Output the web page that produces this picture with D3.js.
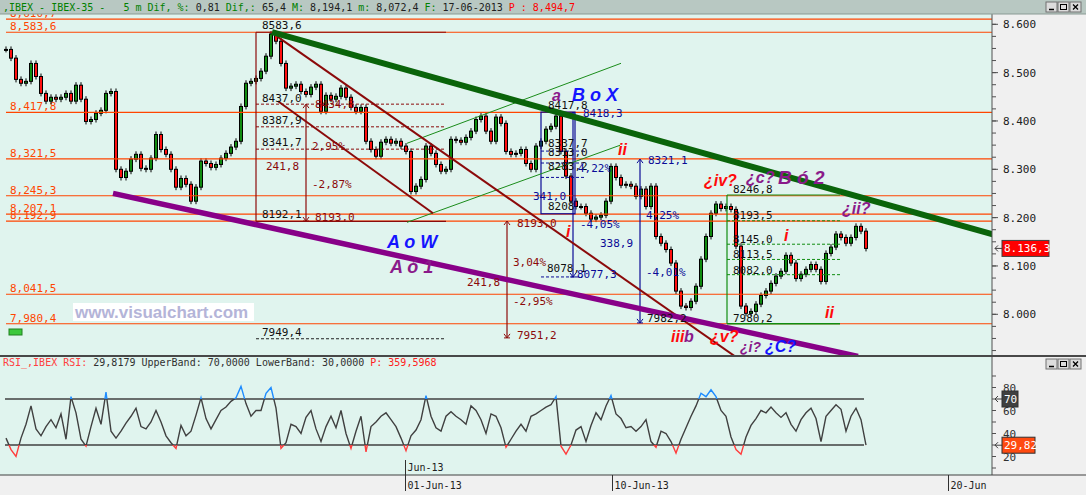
<!DOCTYPE html>
<meta charset="utf-8">
<script src="https://d3js.org/d3.v7.min.js"></script>
<style>
  body { margin: 0; background: #f0f0f0; }
  text { white-space: pre; }
</style>
<div id="chart"></div>
<script>

// closing price of each bar (5 min)
var closes = [
  8548, 8530, 8486, 8478, 8482, 8519, 8492, 8457, 8441, 8449,
  8445, 8449, 8457, 8441, 8474, 8445, 8399, 8403, 8416, 8422,
  8457, 8461, 8300, 8283, 8296, 8321, 8331, 8302, 8300, 8323,
  8372, 8341, 8331, 8300, 8263, 8281, 8269, 8234, 8263, 8317,
  8312, 8304, 8310, 8323, 8333, 8346, 8358, 8430, 8478, 8482,
  8488, 8503, 8534, 8580, 8565, 8519, 8468, 8472, 8476, 8461,
  8455, 8470, 8476, 8420, 8453, 8445, 8451, 8468, 8449, 8428,
  8420, 8428, 8358, 8341, 8327, 8356, 8362, 8354, 8358, 8348,
  8337, 8254, 8265, 8279, 8348, 8333, 8310, 8296, 8300, 8362,
  8360, 8356, 8366, 8379, 8403, 8410, 8379, 8358, 8408, 8395,
  8337, 8331, 8333, 8341, 8312, 8300, 8348, 8358, 8383, 8389,
  8410, 8337, 8286, 8234, 8223, 8223, 8209, 8197, 8201, 8205,
  8234, 8306, 8283, 8267, 8269, 8265, 8244, 8259, 8223, 8265,
  8161, 8147, 8134, 8106, 8048, 8017, 8014, 8027, 8058, 8114,
  8161, 8209, 8228, 8219, 8223, 8217, 8141, 8017, 8002, 8006,
  8021, 8039, 8048, 8064, 8079, 8089, 8122, 8106, 8074, 8083,
  8093, 8103, 8093, 8068, 8126, 8139, 8166, 8159, 8147, 8159,
  8182, 8172, 8136.3
]

// RSI of the same bars
var rsi = [
  36, 26, 20, 36, 48, 64, 44, 38, 46, 52,
  45, 57, 35, 72, 58, 35, 29, 46, 62, 48,
  76, 42, 36, 42, 49, 55, 62, 46, 44, 50,
  60, 50, 38, 32, 27, 47, 38, 42, 56, 71,
  53, 44, 52, 60, 63, 68, 71, 81, 66, 55,
  60, 60, 75, 80, 62, 27, 32, 48, 46, 40,
  54, 60, 44, 33, 46, 55, 45, 60, 40, 27,
  42, 55, 24, 46, 50, 55, 58, 52, 46, 36,
  25, 38, 43, 52, 73, 55, 45, 42, 55, 59,
  55, 52, 48, 64, 60, 52, 40, 57, 55, 45,
  28, 35, 42, 48, 42, 55, 57, 60, 63, 65,
  72, 29, 22, 30, 43, 46, 33, 47, 58, 52,
  64, 73, 57, 53, 45, 46, 42, 46, 52, 33,
  28, 42, 40, 33, 23, 35, 45, 55, 64, 75,
  72, 78, 72, 60, 55, 37, 26, 22, 37, 47,
  53, 60, 58, 63, 58, 54, 58, 48, 42, 52,
  58, 62, 53, 33, 55, 60, 65, 61, 42, 55,
  62, 52, 29.8179
]

// horizontal support / resistance levels
var levels = [8610.7, 8583.6, 8417.8, 8321.5, 8245.3, 8207.1, 8192.9, 8041.5, 7980.4]
var levelLabels = ["8,610,7", "8,583,6", "8,417,8", "8,321,5", "8,245,3", "8,207,1", "8,192,9", "8,041,5", "7,980,4"]

var priceTicks = [8000, 8100, 8200, 8300, 8400, 8500, 8600]
var rsiTicks = [20, 40, 60, 80]
var rsiBands = [70, 30]

// date ticks, placed on the bar index
var dateTicks = [["01-Jun-13", 79.8], ["10-Jun-13", 121.2], ["20-Jun", 188.4]]

// drawing objects, points are [bar index, price]
var thickGreen = [[53.2, 8583.6], [197.4, 8165.5]]
var thickPurple = [[21.4, 8250.3], [170.4, 7913]]
var redChannel = [
  [[54.2, 8575], [145.8, 7913]],
  [[54.4, 8440.7], [85.4, 8209]]
]
var greenChannel = [
  [[80.2, 8353.8], [123, 8519.3]],
  [[80.2, 8190.3], [122.8, 8349.7]]
]
// retracement boxes: [bar from, bar to, price top, price bottom]
var redBox = [50, 88, 8583.6, 8192.1]
var redDashed = [8434.8, 8387.9, 8341.7]
var blackDashed = [[50, 88, 7949.4]]
var blueBox = [107, 113.8, 8418.3, 8208]
var blueDashed = [[107, 115.8, 8337.7], [107, 115.8, 8313.0], [107, 115.8, 8283.2], [107, 115.2, 8077.3]]
var greenBox = [144.2, 166.8, 8246.8, 7980.2]
var greenDashed = [8193.5, 8145.0, 8113.5, 8082.0]
// measuring arrows: [bar, price from, price to]
var redArrows = [[60, 8434.8, 8193.0], [100.2, 8193.0, 7951.2]]
var blueArrows = [[113.4, 8418.3, 8077.3], [126.8, 8321.1, 7982.2]]

// number labels: [text, bar, price, colour kind]
var numLabels = [
  ["8583,6", 51.2, 8590, "k"], ["8437,0", 51.2, 8439, "k"], ["8387,9", 51.2, 8393.7, "k"],
  ["8341,7", 51.2, 8348.2, "k"], ["8192,1", 51.2, 8199.2, "k"], ["7949,4", 51.2, 7955.1, "k"],
  ["8434,8", 61.8, 8426.8, "r"], ["2,95%", 61.2, 8339.9, "r"], ["241,8", 52, 8298.6, "r"],
  ["-2,87%", 61.2, 8261.3, "r"], ["8193,0", 61.8, 8193, "r"], ["8193,0", 102.2, 8180.6, "r"],
  ["3,04%", 101.4, 8099.9, "r"], ["241,8", 92.2, 8058.6, "r"], ["-2,95%", 101.4, 8019.2, "r"],
  ["7951,2", 102.2, 7948.9, "r"],
  ["8417,8", 108.4, 8424.8, "k"], ["8337,7", 108.4, 8346.1, "k"], ["8313,0", 108.4, 8327.5, "k"],
  ["8283,2", 108.4, 8298.6, "k"], ["8208", 108.4, 8215.8, "k"], ["8078,1", 108.2, 8087.5, "k"],
  ["8418,3", 115.4, 8408.2, "b"], ["4,22%", 114.4, 8294.4, "b"], ["341,0", 105.4, 8236.5, "b"],
  ["8077,3", 114.2, 8075.1, "b"], ["-4,05%", 114.8, 8178.6, "b"], ["338,9", 118.8, 8139.2, "b"],
  ["8321,1", 128.4, 8311, "b"], ["4,25%", 128, 8197.2, "b"], ["-4,01%", 128, 8079.2, "b"],
  ["7982,2", 128.2, 7984, "k"],
  ["8246,8", 145.4, 8250.9, "k"], ["8193,5", 145.4, 8197.2, "k"], ["8145,0", 145.4, 8147.5, "k"],
  ["8113,5", 145.4, 8116.5, "k"], ["8082,0", 145.4, 8083.4, "k"], ["7980,2", 145.4, 7984, "k"]
]

// wave count labels: [text, bar, price, colour kind, size kind]
var waveLabels = [
  ["A o W", 76.2, 8137, "blue", 1], ["A ó 1", 76.8, 8085, "purple", 1],
  ["a", 109.2, 8441, "purple", 0], ["B o X", 113.2, 8441, "blue", 1],
  ["ii", 122.4, 8330, "red", 0], ["i", 112, 8160, "red", 0],
  ["¿iv?", 139.6, 8266, "red", 0], ["¿c?", 148, 8272, "purple", 0],
  ["B ó 2", 154.4, 8269, "purple", 2], ["¿ii?", 167.2, 8207.6, "purple", 0],
  ["i", 155.6, 8151.7, "red", 0], ["ii", 163.8, 7992, "red", 0],
  ["iii", 133, 7942.6, "red", 0], ["b", 135.6, 7942.6, "purple", 0],
  ["¿v?", 140.8, 7942.6, "red", 0], ["¿i?", 146.8, 7922, "purple", 3],
  ["¿C?", 151.8, 7922, "blue", 0]
]

var width = 1086, height = 495
var plotRight = 992
var mainTop = 14, mainBottom = 355, rsiTop = 357, rsiBottom = 475

var mono = "DejaVu Sans Mono, monospace"
var colors = { k: "#101010", r: "#8b0a0a", b: "#0a0a96",
  blue: "#1414ff", purple: "#8a1a8a", red: "#ff0a0a", orange: "#ff4500" }

var svg = d3.select("#chart").append("svg")
  .attr("width", width).attr("height", height)
  .style("font-family", mono)

svg.append("rect").attr("width", width).attr("height", height).attr("fill", "#f0f0f0")
svg.append("rect").attr("x", 0).attr("y", mainTop).attr("width", plotRight).attr("height", mainBottom - mainTop).attr("fill", "#e0f4ee")
svg.append("rect").attr("x", 0).attr("y", rsiTop).attr("width", plotRight).attr("height", rsiBottom - rsiTop).attr("fill", "#e0f4ee")

var defs = svg.append("defs")
defs.append("clipPath").attr("id", "clipMain").append("rect")
  .attr("x", 0).attr("y", mainTop).attr("width", plotRight).attr("height", mainBottom - mainTop)
defs.append("clipPath").attr("id", "clipRsi").append("rect")
  .attr("x", 0).attr("y", rsiTop).attr("width", plotRight).attr("height", rsiBottom - rsiTop)

// scales
var x = d3.scaleLinear().domain([0, closes.length - 1]).range([6, 866])
var y = d3.scaleLinear().domain([8000, 8600]).range([314.3, 24.3])
var yr = d3.scaleLinear().domain([30, 70]).range([445, 399])

var main = svg.append("g").attr("clip-path", "url(#clipMain)")

// level labels (under the candles)
main.selectAll(".lvlLabel").data(levels).enter().append("text")
  .attr("x", 10).attr("y", function(d) { return y(d) - 2 })
  .attr("fill", colors.orange).attr("font-size", 11)
  .text(function(d, i) { return levelLabels[i] })

// watermark
main.append("rect").attr("x", 73).attr("y", 303).attr("width", 181).attr("height", 18).attr("fill", "#ffffff")
main.append("text").attr("x", 75).attr("y", 318)
  .attr("font-family", "Liberation Sans, Arial, sans-serif").attr("font-weight", "bold")
  .attr("font-size", 17).attr("fill", "#b4b4d8").text("www.visualchart.com")
main.append("rect").attr("x", 9).attr("y", 329).attr("width", 13).attr("height", 6)
  .attr("fill", "#3cc83c").attr("stroke", "#208020")

// candles, open = previous close
var bars = closes.map(function(c, i) { return { i: i, o: i ? closes[i - 1] : c, c: c } })
var cg = main.append("g")
cg.selectAll("line").data(bars).enter().append("line")
  .attr("x1", function(d) { return x(d.i) }).attr("x2", function(d) { return x(d.i) })
  .attr("y1", function(d) { return y(Math.max(d.o, d.c)) - 3 })
  .attr("y2", function(d) { return y(Math.min(d.o, d.c)) + 3 })
  .attr("stroke", "#000").attr("stroke-width", 1)
cg.selectAll("rect").data(bars).enter().append("rect")
  .attr("x", function(d) { return x(d.i) - 1.5 }).attr("width", 3)
  .attr("y", function(d) { return y(Math.max(d.o, d.c)) })
  .attr("height", function(d) { return Math.max(1, Math.abs(y(d.o) - y(d.c))) })
  .attr("fill", function(d) { return d.c >= d.o ? "#108c10" : "#ff1010" })
  .attr("stroke", "#000").attr("stroke-width", 1)

// horizontal levels
main.selectAll(".lvl").data(levels).enter().append("line")
  .attr("x1", 6).attr("x2", plotRight)
  .attr("y1", function(d) { return y(d) }).attr("y2", function(d) { return y(d) })
  .attr("stroke", colors.orange).attr("stroke-width", 1.2)

function seg(g, a, b, color, w, dash) {
  return g.append("line")
    .attr("x1", x(a[0])).attr("y1", y(a[1]))
    .attr("x2", x(b[0])).attr("y2", y(b[1]))
    .attr("stroke", color).attr("stroke-width", w)
    .attr("stroke-dasharray", dash || null)
}

function arrow(g, a, color) {
  var xa = x(a[0]), y1 = y(a[1]), y2 = y(a[2])
  g.append("line").attr("x1", xa).attr("x2", xa).attr("y1", y1).attr("y2", y2)
    .attr("stroke", color).attr("stroke-width", 1.2)
  var d1 = y1 < y2 ? 1 : -1
  g.append("path").attr("d", "M" + (xa - 3) + "," + (y1 + 4 * d1) + "L" + xa + "," + y1 + "L" + (xa + 3) + "," + (y1 + 4 * d1))
    .attr("fill", "none").attr("stroke", color)
  g.append("path").attr("d", "M" + (xa - 3) + "," + (y2 - 4 * d1) + "L" + xa + "," + y2 + "L" + (xa + 3) + "," + (y2 - 4 * d1))
    .attr("fill", "none").attr("stroke", color)
  g.append("line").attr("x1", xa - 3).attr("x2", xa + 3).attr("y1", y2).attr("y2", y2).attr("stroke", color)
}

var obj = main.append("g")

// dark red retracement box
seg(obj, [redBox[0], redBox[2]], [redBox[0], redBox[3]], colors.r, 1.2)
seg(obj, [redBox[0], redBox[2]], [redBox[1], redBox[2]], colors.r, 1.2)
seg(obj, [redBox[0], redBox[3]], [redBox[1], redBox[3]], colors.r, 1.2)
redDashed.forEach(function(p) { seg(obj, [redBox[0], p], [redBox[1], p], colors.r, 1, "3,2") })
blackDashed.forEach(function(d) { seg(obj, [d[0], d[2]], [d[1], d[2]], "#202020", 1, "3,2") })
redArrows.forEach(function(a) { arrow(obj, a, colors.r) })

// navy box
obj.append("rect")
  .attr("x", x(blueBox[0])).attr("y", y(blueBox[2]))
  .attr("width", x(blueBox[1]) - x(blueBox[0])).attr("height", y(blueBox[3]) - y(blueBox[2]))
  .attr("fill", "none").attr("stroke", colors.b).attr("stroke-width", 1.2)
blueDashed.forEach(function(d) { seg(obj, [d[0], d[2]], [d[1], d[2]], colors.b, 1, "3,2") })
blueArrows.forEach(function(a) { arrow(obj, a, colors.b) })

// green retracement box
seg(obj, [greenBox[0], greenBox[2]], [greenBox[0], greenBox[3]], "#108c10", 1.2)
seg(obj, [greenBox[0], greenBox[2]], [greenBox[1], greenBox[2]], "#108c10", 1.2)
seg(obj, [greenBox[0], greenBox[3]], [greenBox[1], greenBox[3]], "#108c10", 1.5)
greenDashed.forEach(function(p) { seg(obj, [greenBox[0], p], [greenBox[1], p], "#108c10", 1, "3,2") })

// channels and trend lines
greenChannel.forEach(function(l) { seg(obj, l[0], l[1], "#1a8c1a", 1) })
redChannel.forEach(function(l) { seg(obj, l[0], l[1], "#8b0a0a", 2) })
seg(obj, thickPurple[0], thickPurple[1], "#880088", 5.5)
seg(obj, thickGreen[0], thickGreen[1], "#0a640a", 6)

// numbers
main.selectAll(".num").data(numLabels).enter().append("text")
  .attr("x", function(d) { return x(d[1]) }).attr("y", function(d) { return y(d[2]) })
  .attr("font-size", 11).attr("fill", function(d) { return colors[d[3]] })
  .text(function(d) { return d[0] })

// wave counts
main.selectAll(".wave").data(waveLabels).enter().append("text")
  .attr("x", function(d) { return x(d[1]) }).attr("y", function(d) { return y(d[2]) })
  .attr("font-family", "Liberation Sans, Arial, sans-serif")
  .attr("font-weight", "bold").attr("font-style", "italic")
  .attr("font-size", function(d) { return [16, 18, 19, 14][d[4]] })
  .attr("fill", function(d) { return colors[d[3]] })
  .text(function(d) { return d[0] })

// price axis
var axisG = svg.append("g").attr("transform", "translate(" + plotRight + ",0)")
axisG.append("line").attr("y1", mainTop).attr("y2", mainBottom).attr("stroke", "#505050")
axisG.selectAll(".minor").data(d3.range(7925, 8625, 25)).enter().append("line")
  .attr("x1", 0).attr("x2", 4)
  .attr("y1", function(d) { return y(d) }).attr("y2", function(d) { return y(d) })
  .attr("stroke", "#505050")
axisG.selectAll(".major").data(priceTicks).enter().append("g").each(function(d) {
  var g = d3.select(this)
  g.append("line").attr("x1", 0).attr("x2", 6).attr("y1", y(d)).attr("y2", y(d)).attr("stroke", "#505050")
  g.append("text").attr("x", 11).attr("y", y(d) + 4).attr("font-size", 11).attr("fill", "#202020")
    .text(d3.format(".3f")(d / 1000))
})

// last price marker
var last = closes[closes.length - 1]
axisG.append("path").attr("d", "M3," + y(last) + "h7M3," + y(last) + "l3,-3M3," + y(last) + "l3,3")
  .attr("stroke", "#404040").attr("fill", "none")
axisG.append("rect").attr("x", 10).attr("y", y(last) - 8).attr("width", 47).attr("height", 16)
  .attr("fill", "#ff0000").attr("stroke", "#404040")
axisG.append("text").attr("x", 12).attr("y", y(last) + 4).attr("font-size", 11).attr("fill", "#fff")
  .text(d3.format(",.1f")(last).replace(".", ";").replace(",", ".").replace(";", ","))

// RSI panel
var rg = svg.append("g").attr("clip-path", "url(#clipRsi)")
var grad = defs.append("linearGradient").attr("id", "rsiGrad")
  .attr("gradientUnits", "userSpaceOnUse").attr("x1", 0).attr("x2", 0)
  .attr("y1", yr(100)).attr("y2", yr(0))
var span = yr(0) - yr(100)
var o70 = (yr(70) - yr(100)) / span, o30 = (yr(30) - yr(100)) / span
grad.append("stop").attr("offset", 0).attr("stop-color", "#1e8cff")
grad.append("stop").attr("offset", o70).attr("stop-color", "#1e8cff")
grad.append("stop").attr("offset", o70).attr("stop-color", "#404040")
grad.append("stop").attr("offset", o30).attr("stop-color", "#404040")
grad.append("stop").attr("offset", o30).attr("stop-color", "#ff3c3c")
grad.append("stop").attr("offset", 1).attr("stop-color", "#ff3c3c")

rg.selectAll(".band").data(rsiBands).enter().append("line")
  .attr("x1", 5).attr("x2", 864)
  .attr("y1", function(d) { return yr(d) }).attr("y2", function(d) { return yr(d) })
  .attr("stroke", "#404040").attr("stroke-width", 1.5)
rg.append("path").datum(rsi)
  .attr("d", d3.line().x(function(d, i) { return x(i) }).y(function(d) { return yr(d) }))
  .attr("fill", "none").attr("stroke", "url(#rsiGrad)").attr("stroke-width", 1.4)

svg.append("text").attr("x", 3).attr("y", 366).attr("font-size", 10)
  .call(function(t) {
    t.append("tspan").attr("fill", "#ff4040").text("RSI_,IBEX RSI: ")
    t.append("tspan").attr("fill", "#303030").text("29,8179 UpperBand: 70,0000 LowerBand: 30,0000 ")
    t.append("tspan").attr("fill", "#ff2020").text("P: 359,5968")
  })

var raxis = svg.append("g").attr("transform", "translate(" + plotRight + ",0)")
raxis.append("line").attr("y1", rsiTop).attr("y2", rsiBottom).attr("stroke", "#505050")
raxis.selectAll(".rt").data(d3.range(10, 100, 10)).enter().append("line")
  .attr("x1", 0).attr("x2", 4)
  .attr("y1", function(d) { return yr(d) }).attr("y2", function(d) { return yr(d) })
  .attr("stroke", "#505050")
raxis.selectAll(".rl").data(rsiTicks).enter().append("text")
  .attr("x", 11).attr("y", function(d) { return yr(d) + 4 })
  .attr("font-size", 11).attr("fill", "#303030").text(function(d) { return d })
function rsiTag(v, label, w, fill) {
  raxis.append("path").attr("d", "M3," + yr(v) + "h7M3," + yr(v) + "l3,-3M3," + yr(v) + "l3,3")
    .attr("stroke", "#404040").attr("fill", "none")
  raxis.append("rect").attr("x", 10).attr("y", yr(v) - 8).attr("width", w).attr("height", 16)
    .attr("fill", fill).attr("stroke", "#303030")
  raxis.append("text").attr("x", 12).attr("y", yr(v) + 4).attr("font-size", 11).attr("fill", "#fff").text(label)
}
rsiTag(70, "70", 16, "#404040")
var lastRsi = rsi[rsi.length - 1]
rsiTag(lastRsi, d3.format(".2f")(lastRsi).replace(".", ","), 33, "#ff4a10")

// separators
svg.append("line").attr("x1", 0).attr("x2", width).attr("y1", 356).attr("y2", 356).attr("stroke", "#101010").attr("stroke-width", 1.5)
svg.append("line").attr("x1", 0).attr("x2", width).attr("y1", rsiBottom).attr("y2", rsiBottom).attr("stroke", "#404040").attr("stroke-width", 1.2)

// date axis
var dg = svg.append("g")
dg.selectAll("g").data(dateTicks).enter().append("g").each(function(d) {
  var g = d3.select(this), xx = Math.round(x(d[1])) + 0.5
  g.append("line").attr("x1", xx).attr("x2", xx).attr("y1", rsiBottom).attr("y2", 491).attr("stroke", "#303030")
  g.append("text").attr("x", xx + 2).attr("y", 489).attr("font-size", 10).attr("fill", "#202020").text(d[0])
})
var mx = Math.round(x(dateTicks[0][1])) + 0.5
svg.append("line").attr("x1", mx).attr("x2", mx).attr("y1", 460).attr("y2", rsiBottom).attr("stroke", "#303030")
svg.append("text").attr("x", mx + 2).attr("y", 471).attr("font-size", 10).attr("fill", "#202020").text("Jun-13")

// header bar
svg.append("rect").attr("width", width).attr("height", mainTop).attr("fill", "#b8c8c2")
svg.append("line").attr("x1", 0).attr("x2", width).attr("y1", mainTop).attr("y2", mainTop).attr("stroke", "#8a9a94")
svg.append("text").attr("x", 3).attr("y", 11).attr("font-size", 10)
  .call(function(t) {
    var parts = [
      [",IBEX - IBEX-35 -   5 m Dif, %: ", "#008000"], ["0,81 ", "#202020"], ["Dif,: ", "#008000"],
      ["65,4 ", "#202020"], ["M: ", "#008000"], ["8,194,1 ", "#202020"], ["m: ", "#008000"],
      ["8,072,4 ", "#202020"], ["F: ", "#008000"], ["17-06-2013 ", "#202020"], ["P : 8,494,7", "#ff0000"]
    ]
    parts.forEach(function(p) { t.append("tspan").attr("fill", p[1]).text(p[0]) })
  })

// window buttons
function winButtons(y0) {
  var b = svg.append("g").attr("transform", "translate(1046," + y0 + ")")
  ;[0, 1, 2].forEach(function(k) {
    var g = b.append("g").attr("transform", "translate(" + (k * 12) + ",0)")
    g.append("rect").attr("width", 11).attr("height", 10).attr("fill", "#dcdcdc").attr("stroke", "#707070")
    if (k == 0) g.append("line").attr("x1", 3).attr("x2", 8).attr("y1", 7.5).attr("y2", 7.5).attr("stroke", "#000").attr("stroke-width", 1.5)
    if (k == 1) g.append("rect").attr("x", 2.5).attr("y", 2.5).attr("width", 6).attr("height", 5).attr("fill", "none").attr("stroke", "#000")
    if (k == 2) g.append("path").attr("d", "M3,2.5L8,7.5M8,2.5L3,7.5").attr("stroke", "#000").attr("stroke-width", 1.3)
  })
}
winButtons(2)
winButtons(359)

</script>
